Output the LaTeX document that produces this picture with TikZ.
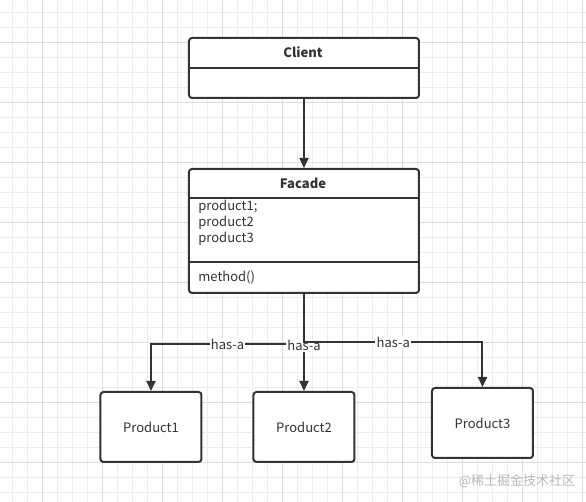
\documentclass[tikz,border=0pt]{standalone}
\usepackage{fontspec}
\setmainfont{Noto Sans CJK SC}
\usetikzlibrary{arrows.meta}
\definecolor{ink}{HTML}{333333}
\definecolor{gridminor}{HTML}{EDEDED}
\definecolor{gridmajor}{HTML}{DCDCDC}
\tikzset{
  box/.style={draw=ink, line width=1pt, rounded corners=1.5pt, fill=white, anchor=north west, inner sep=0pt},
  txt/.style={text=ink, font=\fontsize{6.5pt}{8pt}\selectfont, inner sep=0pt},
  link/.style={draw=ink, line width=1pt, -{Triangle[width=4.5pt,length=5pt]}},
  hasa/.style={txt, fill=white, inner sep=0.6pt}
}
\begin{document}
\begin{tikzpicture}[x=0.5pt,y=-0.5pt]
    \useasboundingbox (0,0) rectangle (586,502);
    \fill[white] (0,0) rectangle (586,502);
    % grid
    \foreach \x in {13,28,...,585} \draw[gridminor,line width=0.5pt] (\x,0) -- (\x,502);
    \foreach \y in {13,28,...,501} \draw[gridminor,line width=0.5pt] (0,\y) -- (586,\y);
    \foreach \x in {43,103,...,585} \draw[gridmajor,line width=0.5pt] (\x,0) -- (\x,502);
    \foreach \y in {43,103,...,501} \draw[gridmajor,line width=0.5pt] (0,\y) -- (586,\y);

    % Client
    \node[box, minimum width=115pt, minimum height=30pt] (client) at (188,37) {};
    \draw[ink, line width=1pt] (client.west) -- (client.east);
    \node[txt, font=\fontsize{6.5pt}{8pt}\selectfont\bfseries] (clientname) at (303,52) {Client};

    % Facade
    \node[box, minimum width=115pt, minimum height=62pt] (facade) at (188,168) {};
    \draw[ink, line width=1pt] (188,198) -- (418,198);
    \draw[ink, line width=1pt] (188,262) -- (418,262);
    \node[txt, font=\fontsize{6.5pt}{8pt}\selectfont\bfseries] (facadename) at (303,183) {Facade};
    \node[txt, anchor=north west, align=left] (fields) at (198,199.5) {product1;\\product2\\product3};
    \node[txt, anchor=west] (methods) at (198,277) {method()};

    % products
    \node[box, minimum width=50.5pt, minimum height=35pt] (p1) at (99.5,391) {};
    \node[box, minimum width=50.5pt, minimum height=35pt] (p2) at (252.5,391) {};
    \node[box, minimum width=50.5pt, minimum height=35pt] (p3) at (431,387) {};
    \node[txt] (p1name) at (p1.center) {Product1};
    \node[txt] (p2name) at (p2.center) {Product2};
    \node[txt] (p3name) at (p3.center) {Product3};

    % connectors
    \draw[link] (client.south) -- (facade.north);
    \draw[link] (facade.south) -- ++(0,50) -| node[hasa, pos=0.25] (hasa1) {has-a} (p1.north);
    \draw[link] (facade.south) -- node[hasa, pos=0.53] (hasa2) {has-a} (p2.north);
    \draw[link] (facade.south) -- ++(0,48) -| node[hasa, pos=0.25] (hasa3) {has-a} (p3.north);

    \node[txt, text=gray!55] (mark) at (517,481) {@稀土掘金技术社区};
\end{tikzpicture}
\end{document}
